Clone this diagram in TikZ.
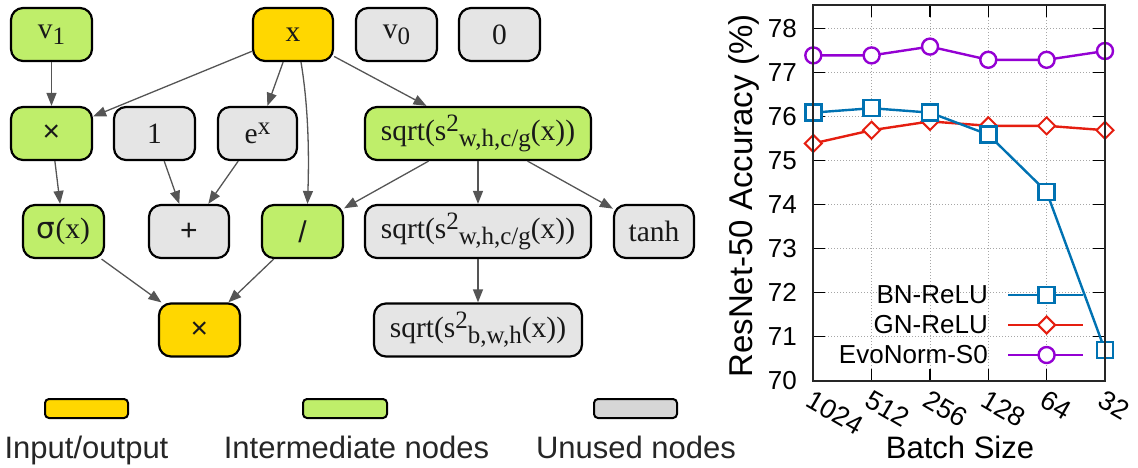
\documentclass[tikz,border=0pt]{standalone}
\usepackage{fontspec}
\setmainfont{Liberation Serif}
\newfontfamily\sansf{Liberation Sans}
\newfontfamily\dvf{DejaVu Sans}
\usetikzlibrary{arrows.meta}
\definecolor{ioyel}{HTML}{FFD700}
\definecolor{midgrn}{HTML}{BFEE6A}
\definecolor{unusd}{HTML}{E5E5E5}
\definecolor{unusdleg}{HTML}{D6D6D6}
\definecolor{edgec}{HTML}{555555}
\definecolor{bnc}{HTML}{0072B2}
\definecolor{gnc}{HTML}{E51E10}
\definecolor{evc}{HTML}{9400D3}
\newcommand{\sbs}[1]{\raisebox{-6pt}{\fontsize{25}{28}\selectfont #1}}
\newcommand{\sps}[1]{\raisebox{9pt}{\fontsize{25}{28}\selectfont #1}}
\newcommand{\opsym}[1]{{\sansf\fontsize{30}{32}\selectfont #1}}
\tikzset{
  gnode/.style={draw=black, line width=2.2pt, rounded corners=12pt, minimum height=53pt,
    inner sep=0pt, font=\fontsize{29.5}{32}\selectfont, text=black!90},
  io/.style={gnode, fill=ioyel},
  mid/.style={gnode, fill=midgrn},
  unu/.style={gnode, fill=unusd},
  edge/.style={draw=edgec, line width=1.3pt, -{Triangle[length=13pt,width=10pt]}},
  legbar/.style={draw=black, line width=2pt, rounded corners=4pt},
  legtxt/.style={font=\sansf\fontsize{31}{36}\selectfont, text=black!85, anchor=base, inner sep=0pt},
  tick/.style={line width=1.6pt, black},
  gridl/.style={draw=gray!70, line width=1pt, dotted},
  ticklbl/.style={font=\sansf\fontsize{26}{30}\selectfont, inner sep=0pt},
  xticklbl/.style={font=\sansf\fontsize{27}{30}\selectfont, inner sep=0pt, anchor=north west, rotate=-30},
  bnline/.style={draw=bnc, line width=2.4pt},
  gnline/.style={draw=gnc, line width=2.4pt},
  evline/.style={draw=evc, line width=2.4pt},
}
\begin{document}
\begin{tikzpicture}[x=1pt, y=-1pt]
\useasboundingbox (0,0) rectangle (1138,467);
% ---------- graph nodes ----------
\node[mid, minimum width=81pt] (v1) at (51.5,34.5) {v\sbs{1}};
\node[io, minimum width=80pt] (x) at (293,34.5) {x};
\node[unu, minimum width=81pt] (v0) at (396.5,34.5) {v\sbs{0}};
\node[unu, minimum width=81pt] (zero) at (499.5,34.5) {0};
\node[mid, minimum width=81pt] (mula) at (51.5,133.5) {\opsym{×}};
\node[unu, minimum width=81pt] (one) at (154.5,133.5) {1};
\node[unu, minimum width=79pt] (ex) at (257.5,133.5) {e\sps{x}};
\node[mid, minimum width=226pt] (sqg) at (478,133.5) {sqrt(s\sps{2}\sbs{w,h,c/g}(x))};
\node[mid, minimum width=81pt] (sig) at (63.5,231.5) {{\dvf σ}(x)};
\node[unu, minimum width=80pt] (plus) at (189,231.5) {\opsym{+}};
\node[mid, minimum width=81pt] (div) at (302.5,231.5) {\opsym{/}};
\node[unu, minimum width=226pt] (sqgr) at (478,231.5) {sqrt(s\sps{2}\sbs{w,h,c/g}(x))};
\node[unu, minimum width=80pt] (tanh) at (654,231.5) {tanh};
\node[io, minimum width=81pt] (mulb) at (199.5,330) {\opsym{×}};
\node[unu, minimum width=208pt] (sqb) at (478,330) {sqrt(s\sps{2}\sbs{b,w,h}(x))};
% ---------- edges ----------
\draw[edge] (v1) -- (mula);
\draw[edge] (x) -- (mula);
\draw[edge] (x) -- (ex);
\draw[edge] ([xshift=8pt]x.south) .. controls (309,110) and (309,160) .. ([xshift=5pt]div.north);
\draw[edge] (x) -- (sqg);
\draw[edge] (mula) -- (sig);
\draw[edge] (one) -- (plus);
\draw[edge] (ex) -- (plus);
\draw[edge] (sqg) -- (div);
\draw[edge] (sqg) -- (sqgr);
\draw[edge] (sqg) -- (tanh);
\draw[edge] (sig) -- (mulb);
\draw[edge] (div) -- (mulb);
\draw[edge] (sqgr) -- (sqb);
% ---------- legend ----------
\draw[legbar, fill=ioyel] (45,399) rectangle (128,418);
\draw[legbar, fill=midgrn] (303,399) rectangle (387,418);
\draw[legbar, fill=unusdleg] (594,399) rectangle (677,418);
\node[legtxt] (l1) at (86.5,458) {Input/output};
\node[legtxt] (l2) at (356.5,458) {Intermediate nodes};
\node[legtxt] (l3) at (636,458) {Unused nodes};
% ---------- plot ----------
\foreach \yy in {28.3,72.3,116.3,160.3,204.3,248.3,292.3,336.3}
  \draw[gridl] (813.3,\yy) -- (1105,\yy);
\foreach \xx in {871.6,930,988.3,1046.6}
  \draw[gridl] (\xx,5) -- (\xx,381);
% ticks
\foreach \yy in {28.3,72.3,116.3,160.3,204.3,248.3,292.3,336.3} {
  \draw[tick] (813.3,\yy) -- (825.3,\yy);
  \draw[tick] (1093,\yy) -- (1105,\yy);
}
\foreach \xx in {871.6,930,988.3,1046.6} {
  \draw[tick] (\xx,381) -- (\xx,369);
  \draw[tick] (\xx,5) -- (\xx,17);
}
% y tick labels
\foreach \v/\yy in {70/380.3,71/336.3,72/292.3,73/248.3,74/204.3,75/160.3,76/116.3,77/72.3,78/28.3}
  \node[ticklbl, anchor=east] (yl\v) at (797,\yy) {\v};
% x tick labels
\foreach \b/\xx in {1024/813.3,512/871.6,256/930,128/988.3,64/1046.6,32/1105}
  \node[xticklbl] (xl\b) at (\xx+1,389) {\b};
% axis titles
\node[font=\sansf\fontsize{33}{38}\selectfont, rotate=90, inner sep=0pt] (ylab) at (744,196) {ResNet-50 Accuracy (\%)};
\node[font=\sansf\fontsize{31}{36}\selectfont, anchor=base, inner sep=0pt] (xlab) at (960,458) {Batch Size};
% legend of plot
\node[ticklbl, anchor=east] (lbn) at (988,295) {BN-ReLU};
\node[ticklbl, anchor=east] (lgn) at (988,325) {GN-ReLU};
\node[ticklbl, anchor=east] (lev) at (988,355) {EvoNorm-S0};
\draw[bnline] (1008,295) -- (1083,295);
\draw[gnline] (1008,325) -- (1083,325);
\draw[evline] (1008,355) -- (1083,355);
\draw[bnline, fill=white] (1046.6-8,295-8) rectangle (1046.6+8,295+8);
\draw[gnline, fill=white, line width=2pt] (1046.6,325-8.5) -- (1046.6+8.5,325) -- (1046.6,325+8.5) -- (1046.6-8.5,325) -- cycle;
\draw[evline, fill=white] (1046.6,355) circle (8pt);
% data
\draw[evline] (813.3,55.4) -- (871.6,55.4) -- (930,46.6) -- (988.3,59.8) -- (1046.6,59.8) -- (1105,51);
\draw[gnline] (813.3,143.4) -- (871.6,130.2) -- (930,121.4) -- (988.3,125.8) -- (1046.6,125.8) -- (1105,130.2);
\draw[bnline] (813.3,112.6) -- (871.6,108.2) -- (930,112.6) -- (988.3,134.6) -- (1046.6,191.8) -- (1105,350.2);
\foreach \xx/\yy in {813.3/55.4,871.6/55.4,930/46.6,988.3/59.8,1046.6/59.8,1105/51}
  \draw[evline, fill=white] (\xx,\yy) circle (8pt);
\foreach \xx/\yy in {813.3/143.4,871.6/130.2,930/121.4,988.3/125.8,1046.6/125.8,1105/130.2}
  \draw[gnline, fill=white, line width=2pt] (\xx,\yy-8.5) -- (\xx+8.5,\yy) -- (\xx,\yy+8.5) -- (\xx-8.5,\yy) -- cycle;
\foreach \xx/\yy in {813.3/112.6,871.6/108.2,930/112.6,988.3/134.6,1046.6/191.8,1105/350.2}
  \draw[bnline, fill=white] (\xx-8,\yy-8) rectangle (\xx+8,\yy+8);
% frame
\draw[line width=2pt, black!85] (813.3,5) rectangle (1105,381);
\end{tikzpicture}
\end{document}
